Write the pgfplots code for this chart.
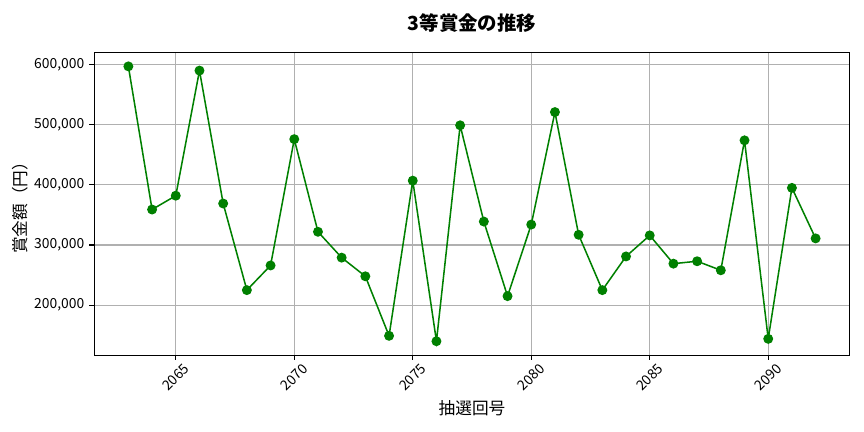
\documentclass[border=0pt]{standalone}
\usepackage{fontspec}
\setmainfont{Noto Sans CJK JP}
\usepackage{pgfplots}
\pgfplotsset{compat=1.18}

\definecolor{mplgreen}{RGB}{0,128,0}
\definecolor{gridgray}{RGB}{176,176,176}

\pgfplotstableread{
kai prize
2063 597000
2064 359000
2065 382000
2066 590000
2067 369000
2068 225000
2069 266000
2070 476000
2071 322000
2072 279000
2073 248000
2074 149000
2075 407000
2076 140000
2077 499000
2078 339000
2079 215000
2080 334000
2081 521000
2082 317000
2083 225000
2084 281000
2085 316000
2086 269000
2087 273000
2088 258000
2089 474000
2090 144000
2091 395000
2092 311000
}\prizedata

\begin{document}
\begin{tikzpicture}
% fixed page: 8.64in x 4.32in, axis box placed as in the reference
\useasboundingbox (-67.7bp,-55.4bp) rectangle (554.4bp,255.6bp);
\begin{axis}[
  at={(0,0)}, anchor=south west,
  scale only axis,
  width=544.3bp, height=217.7bp,
  xmin=2061.55, xmax=2093.45,
  ymin=117150, ymax=619850,
  xtick={2065,2070,2075,2080,2085,2090},
  ytick={200000,300000,400000,500000,600000},
  scaled y ticks=false,
  /pgf/number format/assume math mode=true,
  tick align=outside,
  tick pos=left,
  major tick length=3.5bp,
  tick style={black, line width=0.8bp},
  axis line style={line width=0.7bp},
  grid=major,
  grid style={gridgray, line width=0.8bp},
  ticklabel style={font=\fontsize{10bp}{12bp}\selectfont},
  xticklabel style={rotate=45, anchor=center, xshift=-8.9bp, yshift=-8.9bp,
    /pgf/number format/1000 sep={}},
  yticklabel style={anchor=east, xshift=0bp,
    /pgf/number format/fixed, /pgf/number format/precision=0,
    /pgf/number format/1000 sep={,}},
  title={\bfseries 3等賞金の推移},
  every axis title/.style={at={(axis description cs:0.5,1)}, anchor=center, yshift=21.4bp, font=\fontsize{14bp}{17bp}\selectfont},
  xlabel={抽選回号},
  ylabel={賞金額（円）},
  every axis x label/.style={at={(axis description cs:0.5,0)}, anchor=center, yshift=-38bp, font=\fontsize{12bp}{14bp}\selectfont},
  every axis y label/.style={at={(axis description cs:0,0.5)}, anchor=center, rotate=90, yshift=53bp, font=\fontsize{12bp}{14bp}\selectfont},
]
\addplot [mplgreen, line width=1.1bp, mark=*, mark size=3bp, mark options={fill=mplgreen, draw=mplgreen}]
  table [x=kai, y=prize] {\prizedata};
\end{axis}
\end{tikzpicture}
\end{document}
